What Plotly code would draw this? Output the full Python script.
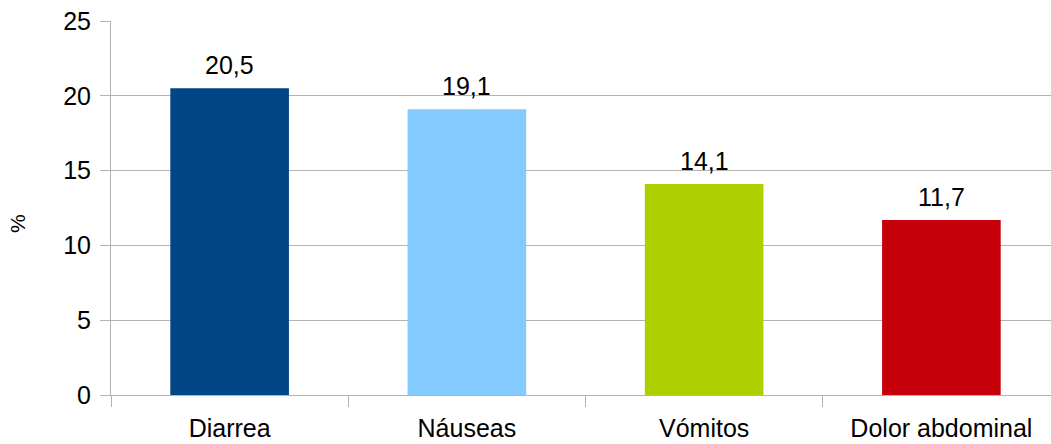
import plotly.graph_objects as go

# Síntomas gastrointestinales (%)
categories = ["Diarrea", "Náuseas", "Vómitos", "Dolor abdominal"]
values = [20.5, 19.1, 14.1, 11.7]
colors = ["#004586", "#83caff", "#aecf00", "#c5000b"]
y_ticks = [0, 5, 10, 15, 20, 25]

FONT = "Liberation Sans, Arial, sans-serif"
GRID = "#b3b3b3"

fig = go.Figure()
fig.add_trace(go.Bar(
    x=categories,
    y=values,
    marker=dict(color=colors, line=dict(width=0)),
    width=0.5,
    hoverinfo="x+y",
))

# value labels above each bar
for cat, val in zip(categories, values):
    fig.add_annotation(
        x=cat, y=val,
        text=f"{val:.1f}".replace(".", ","),
        showarrow=False,
        yanchor="bottom",
        yshift=7,
        font=dict(family=FONT, size=25, color="#000000"),
    )

# y-axis title, rotated, left of the tick labels
fig.add_annotation(
    xref="paper", yref="paper",
    x=(18 - 111) / 940, y=(395 - 224) / 374,
    xanchor="center", yanchor="middle",
    text="%", textangle=-90,
    showarrow=False,
    font=dict(family=FONT, size=21, color="#000000"),
)

fig.update_layout(
    width=1051, height=444,
    margin=dict(l=111, r=0, t=21, b=49),
    paper_bgcolor="white",
    plot_bgcolor="white",
    separators=",.",
    showlegend=False,
    bargap=0.5,
    font=dict(family=FONT, size=25, color="#000000"),
)

fig.update_xaxes(
    type="category",
    range=[-0.5, 3.462],
    tickson="boundaries",
    ticks="outside",
    ticklen=11,
    tickcolor=GRID,
    tickwidth=1,
    showline=True,
    linecolor=GRID,
    linewidth=1,
    showgrid=False,
    ticklabelstandoff=11,
    tickfont=dict(family=FONT, size=25, color="#000000"),
)

fig.update_yaxes(
    range=[0, 25],
    tickvals=y_ticks,
    ticks="outside",
    ticklen=10,
    tickcolor=GRID,
    showline=True,
    linecolor=GRID,
    linewidth=1,
    showgrid=True,
    gridcolor=GRID,
    gridwidth=1,
    zeroline=False,
    ticklabelstandoff=4,
    tickfont=dict(family=FONT, size=25, color="#000000"),
)

fig.write_html("out.html")
